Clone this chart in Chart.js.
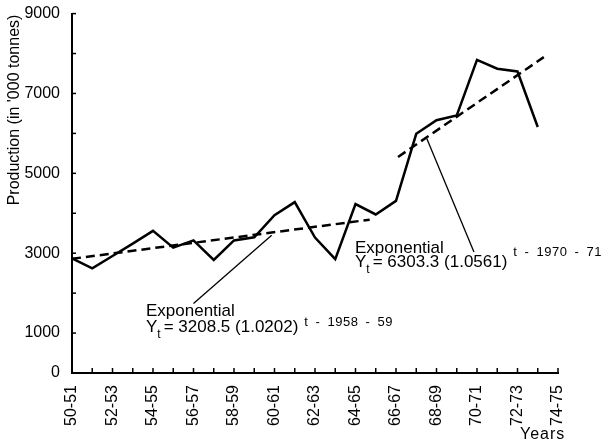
<!DOCTYPE html>
<html>
<head>
<meta charset="utf-8">
<script src="https://cdn.jsdelivr.net/npm/chart.js@4.4.0/dist/chart.umd.min.js"></script>
<style>
  html, body { margin: 0; padding: 0; background: #fff; }
  #wrap { width: 601px; height: 444px; }
</style>
</head>
<body>
<div id="wrap"><canvas id="prodChart" width="601" height="444"></canvas></div>
<script>
// years 1950-51 .. 1974-75
const categories = ["50-51","51-52","52-53","53-54","54-55","55-56","56-57","57-58","58-59","59-60",
  "60-61","61-62","62-63","63-64","64-65","65-66","66-67","67-68","68-69","69-70",
  "70-71","71-72","72-73","73-74","74-75"];
// production in '000 tonnes, 50-51 .. 73-74
const production = [2870, 2620, 2930, 3240, 3560, 3140, 3320, 2830, 3320, 3400,
  3950, 4280, 3390, 2850, 4230, 3970, 4310, 5990, 6330, 6450,
  7840, 7620, 7550, 6160];
// fitted exponential trends
const trend1X = [0, 14.7];
const trend1Y = [2860, 3840];
const trend2X = [16.1, 23.3];
const trend2Y = [5410, 7910];
// pointer lines from the labels to the trends
const leader1X = [6.0, 9.86];
const leader1Y = [1740, 3450];
const leader2X = [17.52, 19.85];
const leader2Y = [5870, 3030];
const yTickLabels = [0, 1000, 3000, 5000, 7000, 9000];

const pts = (xs, ys) => xs.map((x, i) => ({ x: x, y: ys[i] }));
const FONT = '"Liberation Sans", Arial, Helvetica, sans-serif';

const overlay = {
  id: "overlay",
  afterDraw(chart) {
    const ctx = chart.ctx;
    const x = chart.scales.x, y = chart.scales.y;
    ctx.save();
    // inward tick marks
    ctx.strokeStyle = "#000";
    ctx.lineWidth = 1.5;
    for (let i = 0; i < categories.length; i++) {
      const px = x.getPixelForValue(i);
      ctx.beginPath(); ctx.moveTo(px, y.bottom); ctx.lineTo(px, y.bottom - 5); ctx.stroke();
    }
    for (let v = 0; v <= 9000; v += 1000) {
      const py = y.getPixelForValue(v);
      ctx.beginPath(); ctx.moveTo(x.left, py); ctx.lineTo(x.left + 4, py); ctx.stroke();
    }
    ctx.fillStyle = "#000";
    // y title
    ctx.save();
    ctx.translate(19, 110);
    ctx.rotate(-Math.PI / 2);
    ctx.font = "16px " + FONT;
    ctx.textAlign = "center";
    ctx.textBaseline = "alphabetic";
    ctx.fillText("Production (in '000 tonnes)", 0, 0);
    ctx.restore();
    // x title
    ctx.font = "16px " + FONT;
    ctx.textAlign = "left";
    ctx.textBaseline = "alphabetic";
    ctx.letterSpacing = "1px";
    ctx.fillText("Years", 520, 439);

    function label(lx, ly, by, sy, coef, base, expo) {
      ctx.textAlign = "left";
      ctx.font = "17px " + FONT;
      ctx.letterSpacing = "0px";
      ctx.wordSpacing = "0px";
      ctx.fillText("Exponential", lx, ly);
      ctx.fillText("Y", lx, by);
      let cx = lx + ctx.measureText("Y").width;
      ctx.font = "12px " + FONT;
      ctx.fillText("t", cx, by + 6);
      cx += ctx.measureText("t").width + 3;
      ctx.font = "17px " + FONT;
      const main = "= " + coef + " (" + base + ")";
      ctx.fillText(main, cx, by);
      cx += ctx.measureText(main).width + 6;
      ctx.font = "13px " + FONT;
      ctx.letterSpacing = "0.5px";
      ctx.wordSpacing = "3px";
      ctx.fillText(expo, cx, sy);
    }
    label(146, 316, 332, 326, "3208.5", "1.0202", "t - 1958 - 59");
    label(355, 253, 267, 256, "6303.3", "1.0561", "t - 1970 - 71");
    ctx.restore();
  }
};

new Chart(document.getElementById("prodChart").getContext("2d"), {
  type: "line",
  data: {
    datasets: [
      {
        label: "Production",
        data: pts(production.map((v, i) => i), production),
        borderColor: "#000",
        borderWidth: 2.5,
        pointRadius: 0,
        tension: 0,
      },
      {
        label: "Trend 1950s",
        data: pts(trend1X, trend1Y),
        borderColor: "#000",
        borderWidth: 2.5,
        borderDash: [9, 5],
        pointRadius: 0,
      },
      {
        label: "Trend 1960s",
        data: pts(trend2X, trend2Y),
        borderColor: "#000",
        borderWidth: 2.5,
        borderDash: [9, 5],
        pointRadius: 0,
      },
      {
        label: "leader1",
        data: pts(leader1X, leader1Y),
        borderColor: "#000",
        borderWidth: 1.3,
        pointRadius: 0,
      },
      {
        label: "leader2",
        data: pts(leader2X, leader2Y),
        borderColor: "#000",
        borderWidth: 1.3,
        pointRadius: 0,
      },
    ],
  },
  options: {
    responsive: false,
    animation: false,
    layout: { padding: { top: 13, right: 43, left: 0, bottom: 0 } },
    plugins: { legend: { display: false }, tooltip: { enabled: false } },
    scales: {
      x: {
        type: "linear",
        min: 0,
        max: 24,
        grid: { display: false },
        border: { display: true, color: "#000", width: 2 },
        ticks: {
          stepSize: 1,
          autoSkip: false,
          maxRotation: 90,
          minRotation: 90,
          padding: 4,
          color: "#000",
          font: { family: FONT, size: 16 },
          callback: (v) => (v % 2 === 0 ? categories[v] : null),
        },
        afterFit: (s) => { s.height = 71; },
      },
      y: {
        min: 0,
        max: 9000,
        grid: { display: false },
        border: { display: true, color: "#000", width: 2 },
        ticks: {
          stepSize: 1000,
          padding: 4,
          color: "#000",
          font: { family: FONT, size: 16 },
          callback: (v) => (yTickLabels.includes(v) ? String(v) : null),
        },
        afterFit: (s) => { s.width = 72; },
      },
    },
  },
  plugins: [overlay],
});
</script>
</body>
</html>
